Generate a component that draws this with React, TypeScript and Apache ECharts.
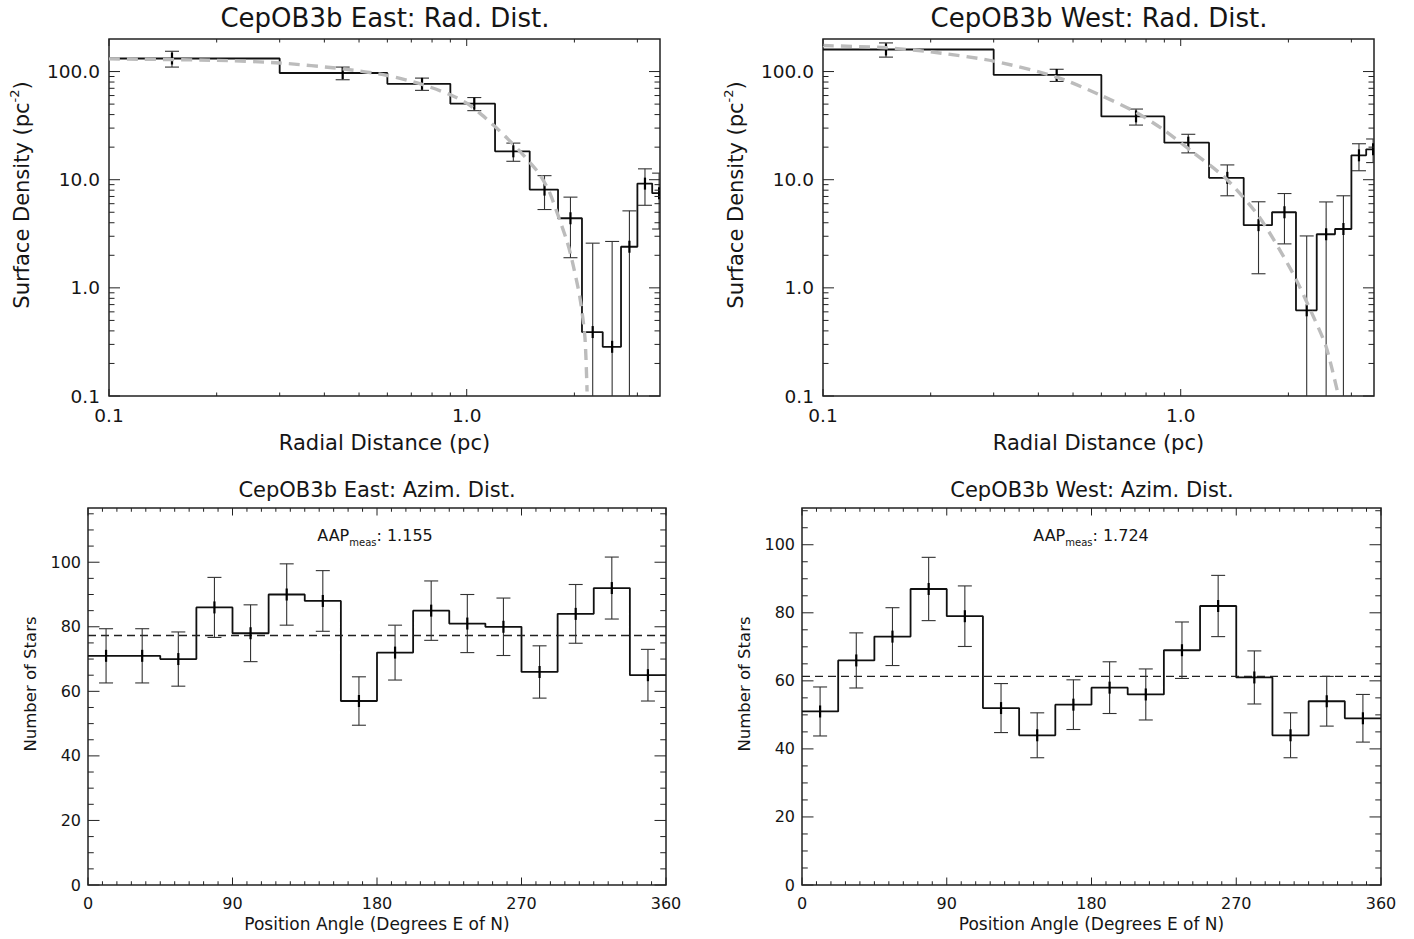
import React, { useEffect, useRef } from 'react';
import * as echarts from 'echarts';

const FONT = '"DejaVu Sans", "Liberation Sans", sans-serif';
const INK = '#151515';

// ---------- Radial distributions ----------
const RAD_EDGES = [0, 0.3, 0.6, 0.9, 1.2, 1.5, 1.8, 2.1, 2.4, 2.7, 3.0, 3.3, 3.6];
const RAD_CENTERS = [0.15, 0.45, 0.75, 1.05, 1.35, 1.65, 1.95, 2.25, 2.55, 2.85, 3.15, 3.45];
const EAST_RAD = [132, 97, 77, 50.5, 18.3, 8.1, 4.4, 0.39, 0.285, 2.4, 9.2, 7.5];
const EAST_RAD_ERR = [22, 13, 10, 7, 3.5, 2.8, 2.5, 2.2, 2.4, 2.75, 3.4, 4];
const WEST_RAD = [160, 93, 38.5, 22, 10.4, 3.8, 5.0, 0.62, 3.13, 3.5, 16.8, 19.1];
const WEST_RAD_ERR = [24, 12, 6.5, 4.3, 3.3, 2.45, 2.45, 2.4, 3.1, 3.6, 4.7, 4.7];

const EAST_FIT_R = [0.1, 0.2, 0.3, 0.45, 0.6, 0.75, 0.9, 1.0, 1.1, 1.2, 1.3, 1.4, 1.5, 1.6, 1.7, 1.78, 1.9, 1.96, 2.07, 2.14, 2.17];
const EAST_FIT = [131, 127, 120, 106, 92, 76, 61, 51, 40, 31, 24, 18.7, 14.5, 11.2, 7.8, 5.2, 2.8, 1.93, 0.83, 0.35, 0.11];
const WEST_FIT_R = [0.1, 0.15, 0.2, 0.3, 0.45, 0.6, 0.75, 0.9, 1.08, 1.34, 1.66, 2.06, 2.35, 2.55, 2.75];
const WEST_FIT = [174, 166, 152, 125, 89, 60, 42, 28.6, 18, 10.2, 4.5, 1.36, 0.54, 0.285, 0.106];

const RAD_X_RANGE: [number, number] = [0.1, 3.47];
const RAD_Y_RANGE: [number, number] = [0.1, 200];
const RAD_X_TICKS = [0.1, 1.0];
const RAD_Y_TICKS = [0.1, 1.0, 10.0, 100.0];

// ---------- Azimuthal distributions ----------
const AZ_EDGES = [0, 22.5, 45, 67.5, 90, 112.5, 135, 157.5, 180, 202.5, 225, 247.5, 270, 292.5, 315, 337.5, 360];
const AZ_CENTERS = [11.25, 33.75, 56.25, 78.75, 101.25, 123.75, 146.25, 168.75, 191.25, 213.75, 236.25, 258.75, 281.25, 303.75, 326.25, 348.75];
const EAST_AZ = [71, 71, 70, 86, 78, 90, 88, 57, 72, 85, 81, 80, 66, 84, 92, 65];
const EAST_AZ_ERR = [8.4, 8.4, 8.4, 9.3, 8.8, 9.5, 9.4, 7.5, 8.5, 9.2, 9.0, 8.9, 8.1, 9.1, 9.6, 8.0];
const EAST_AZ_MEAN = 77.3;
const EAST_AAP = '1.155';
const WEST_AZ = [51, 66, 73, 87, 79, 52, 44, 53, 58, 56, 69, 82, 61, 44, 54, 49];
const WEST_AZ_ERR = [7.2, 8.1, 8.5, 9.3, 8.9, 7.2, 6.6, 7.3, 7.6, 7.5, 8.3, 9.0, 7.8, 6.6, 7.3, 7.0];
const WEST_AZ_MEAN = 61.3;
const WEST_AAP = '1.724';

const AZ_X_RANGE: [number, number] = [0, 360];
const EAST_AZ_Y_RANGE: [number, number] = [0, 116.8];
const WEST_AZ_Y_RANGE: [number, number] = [0, 110.8];
const AZ_X_TICKS = [0, 90, 180, 270, 360];
const AZ_Y_TICKS = [0, 20, 40, 60, 80, 100];
const AZ_X_MINOR_STEP = 9;
const AZ_Y_MINOR_STEP = 5;

// ---------- layout ----------
const GRIDS = [
  { left: 109, top: 39, width: 551, height: 357 },
  { left: 823, top: 39, width: 551, height: 357 },
  { left: 88, top: 508, width: 578, height: 377 },
  { left: 802, top: 508, width: 579, height: 377 },
];

function logMinors(r: [number, number]) {
  const out: number[] = [];
  for (let d = Math.floor(Math.log10(r[0])); d <= Math.ceil(Math.log10(r[1])); d++) {
    for (let m = 2; m <= 9; m++) {
      const v = m * Math.pow(10, d);
      if (v > r[0] * 1.0001 && v < r[1] * 0.9999) out.push(v);
    }
  }
  return out;
}
function linMinors(r: [number, number], step: number, majors: number[]) {
  const out: number[] = [];
  for (let v = r[0] + step; v < r[1] - 1e-6; v += step) {
    if (!majors.some((m) => Math.abs(m - v) < 1e-6)) out.push(v);
  }
  return out;
}

function stepPoints(edges: number[], vals: number[], xr: [number, number]) {
  const pts: number[][] = [];
  for (let i = 0; i < vals.length; i++) {
    const a = Math.max(edges[i], xr[0]);
    const b = Math.min(edges[i + 1], xr[1]);
    if (b <= a) continue;
    pts.push([a, vals[i]], [b, vals[i]]);
  }
  return pts;
}

function tickSeries(idx: number, xr: [number, number], yr: [number, number], xMaj: number[], xMin: number[], yMaj: number[], yMin: number[], xLen: number, yLen: number) {
  const data: number[][] = [];
  xMaj.forEach((v) => data.push([v, yr[0], 0, 1]));
  xMin.forEach((v) => data.push([v, yr[0], 0, 0]));
  yMaj.forEach((v) => data.push([xr[0], v, 1, 1]));
  yMin.forEach((v) => data.push([xr[0], v, 1, 0]));
  const st = { stroke: '#222', lineWidth: 1 };
  return {
    type: 'custom', xAxisIndex: idx, yAxisIndex: idx, clip: false, silent: true, z: 5,
    encode: { x: 0, y: 1 },
    data,
    renderItem: (_p: any, api: any) => {
      const kind = api.value(2);
      const major = api.value(3);
      if (kind === 0) {
        const x = api.value(0);
        const b = api.coord([x, yr[0]]);
        const t = api.coord([x, yr[1]]);
        const L = major ? xLen : xLen / 2;
        return { type: 'group', children: [
          { type: 'line', shape: { x1: b[0], y1: b[1], x2: b[0], y2: b[1] - L }, style: st },
          { type: 'line', shape: { x1: t[0], y1: t[1], x2: t[0], y2: t[1] + L }, style: st },
        ] };
      }
      const y = api.value(1);
      const l = api.coord([xr[0], y]);
      const r = api.coord([xr[1], y]);
      const L = major ? yLen : yLen / 2;
      return { type: 'group', children: [
        { type: 'line', shape: { x1: l[0], y1: l[1], x2: l[0] + L, y2: l[1] }, style: st },
        { type: 'line', shape: { x1: r[0], y1: r[1], x2: r[0] - L, y2: r[1] }, style: st },
      ] };
    },
  };
}

function errSeries(idx: number, centers: number[], vals: number[], errs: number[], floor: number) {
  return {
    type: 'custom', xAxisIndex: idx, yAxisIndex: idx, clip: true, silent: true, z: 4,
    encode: { x: 0, y: 1 },
    data: centers.map((c, i) => [c, vals[i], errs[i]]),
    renderItem: (_p: any, api: any) => {
      const c = api.value(0), v = api.value(1), e = api.value(2);
      const lowVal = v - e;
      const lo = Math.max(lowVal, floor);
      const pH = api.coord([c, v + e]);
      const pL = api.coord([c, lo]);
      const pC = api.coord([c, v]);
      const cap = 7;
      const st = { stroke: '#333', lineWidth: 1.1 };
      const ch: any[] = [
        { type: 'line', shape: { x1: pH[0], y1: pH[1], x2: pL[0], y2: pL[1] }, style: st },
        { type: 'line', shape: { x1: pH[0] - cap, y1: pH[1], x2: pH[0] + cap, y2: pH[1] }, style: st },
        { type: 'line', shape: { x1: pC[0], y1: pC[1] - 6, x2: pC[0], y2: pC[1] + 6 }, style: { stroke: '#000', lineWidth: 2.2 } },
      ];
      if (lowVal > floor) ch.push({ type: 'line', shape: { x1: pL[0] - cap, y1: pL[1], x2: pL[0] + cap, y2: pL[1] }, style: st });
      return { type: 'group', children: ch };
    },
  };
}

const logFmt = (v: number) => {
  const l = Math.log10(v);
  if (Math.abs(l - Math.round(l)) > 1e-6) return '';
  const r = Math.round(l);
  return r < 0 ? '0.1' : Math.pow(10, r).toFixed(1);
};
const azYFmt = (v: number) => (AZ_Y_TICKS.some((t) => Math.abs(t - v) < 1e-6) ? String(Math.round(v)) : '');
const azXFmt = (v: number) => (AZ_X_TICKS.some((t) => Math.abs(t - v) < 1e-6) ? String(Math.round(v)) : '');

function buildOption() {
  const radLabel = { fontSize: 18.5, fontFamily: FONT, color: INK };
  const azLabel = { fontSize: 16, fontFamily: FONT, color: INK };
  const radName = { fontSize: 21, fontFamily: FONT, color: INK };
  const azName = { fontSize: 17, fontFamily: FONT, color: INK };
  const hidden = { axisLine: { show: false }, axisTick: { show: false }, splitLine: { show: false }, minorTick: { show: false }, minorSplitLine: { show: false } };

  const xAxis: any[] = [
    { ...hidden, type: 'log', gridIndex: 0, min: RAD_X_RANGE[0], max: RAD_X_RANGE[1], axisLabel: { ...radLabel, margin: 10, formatter: logFmt, showMinLabel: true, showMaxLabel: true },
      name: 'Radial Distance (pc)', nameLocation: 'middle', nameGap: 36, nameTextStyle: radName },
    { ...hidden, type: 'log', gridIndex: 1, min: RAD_X_RANGE[0], max: RAD_X_RANGE[1], axisLabel: { ...radLabel, margin: 10, formatter: logFmt, showMinLabel: true, showMaxLabel: true },
      name: 'Radial Distance (pc)', nameLocation: 'middle', nameGap: 36, nameTextStyle: radName },
    { ...hidden, type: 'value', gridIndex: 2, min: AZ_X_RANGE[0], max: AZ_X_RANGE[1], interval: 90, axisLabel: { ...azLabel, margin: 10, formatter: azXFmt },
      name: 'Position Angle (Degrees E of N)', nameLocation: 'middle', nameGap: 30, nameTextStyle: azName },
    { ...hidden, type: 'value', gridIndex: 3, min: AZ_X_RANGE[0], max: AZ_X_RANGE[1], interval: 90, axisLabel: { ...azLabel, margin: 10, formatter: azXFmt },
      name: 'Position Angle (Degrees E of N)', nameLocation: 'middle', nameGap: 30, nameTextStyle: azName },
  ];
  const yAxis: any[] = [
    { ...hidden, type: 'log', gridIndex: 0, min: RAD_Y_RANGE[0], max: RAD_Y_RANGE[1], axisLabel: { ...radLabel, margin: 9, formatter: logFmt, showMinLabel: true } },
    { ...hidden, type: 'log', gridIndex: 1, min: RAD_Y_RANGE[0], max: RAD_Y_RANGE[1], axisLabel: { ...radLabel, margin: 9, formatter: logFmt, showMinLabel: true } },
    { ...hidden, type: 'value', gridIndex: 2, min: EAST_AZ_Y_RANGE[0], max: EAST_AZ_Y_RANGE[1], interval: 20, axisLabel: { ...azLabel, margin: 7, formatter: azYFmt } },
    { ...hidden, type: 'value', gridIndex: 3, min: WEST_AZ_Y_RANGE[0], max: WEST_AZ_Y_RANGE[1], interval: 20, axisLabel: { ...azLabel, margin: 7, formatter: azYFmt } },
  ];

  const histLine = { color: '#111', width: 1.8 };
  const series: any[] = [];
  const radPanels = [
    { idx: 0, vals: EAST_RAD, errs: EAST_RAD_ERR, fr: EAST_FIT_R, fv: EAST_FIT },
    { idx: 1, vals: WEST_RAD, errs: WEST_RAD_ERR, fr: WEST_FIT_R, fv: WEST_FIT },
  ];
  radPanels.forEach((p) => {
    series.push({ type: 'line', xAxisIndex: p.idx, yAxisIndex: p.idx, data: stepPoints(RAD_EDGES, p.vals, RAD_X_RANGE), symbol: 'none', lineStyle: histLine, z: 3, silent: true });
    series.push({ type: 'line', xAxisIndex: p.idx, yAxisIndex: p.idx, data: p.fr.map((r, i) => [r, p.fv[i]]), symbol: 'none', smooth: 0.25,
      lineStyle: { color: '#bcbcbc', width: 3.4, type: [11, 7] }, z: 4, silent: true });
    series.push(errSeries(p.idx, RAD_CENTERS, p.vals, p.errs, RAD_Y_RANGE[0]));
    series.push(tickSeries(p.idx, RAD_X_RANGE, RAD_Y_RANGE, RAD_X_TICKS, logMinors(RAD_X_RANGE), RAD_Y_TICKS, logMinors(RAD_Y_RANGE), 7, 11));
  });
  const azPanels = [
    { idx: 2, vals: EAST_AZ, errs: EAST_AZ_ERR, mean: EAST_AZ_MEAN, yr: EAST_AZ_Y_RANGE },
    { idx: 3, vals: WEST_AZ, errs: WEST_AZ_ERR, mean: WEST_AZ_MEAN, yr: WEST_AZ_Y_RANGE },
  ];
  azPanels.forEach((p) => {
    series.push({ type: 'line', xAxisIndex: p.idx, yAxisIndex: p.idx, data: stepPoints(AZ_EDGES, p.vals, AZ_X_RANGE), symbol: 'none', lineStyle: histLine, z: 3, silent: true });
    series.push({ type: 'line', xAxisIndex: p.idx, yAxisIndex: p.idx, data: [[AZ_X_RANGE[0], p.mean], [AZ_X_RANGE[1], p.mean]], symbol: 'none',
      lineStyle: { color: '#222', width: 1.3, type: [8, 5] }, z: 3, silent: true });
    series.push(errSeries(p.idx, AZ_CENTERS, p.vals, p.errs, p.yr[0]));
    series.push(tickSeries(p.idx, AZ_X_RANGE, p.yr, AZ_X_TICKS, linMinors(AZ_X_RANGE, AZ_X_MINOR_STEP, AZ_X_TICKS), AZ_Y_TICKS, linMinors(p.yr, AZ_Y_MINOR_STEP, AZ_Y_TICKS), 7.5, 11.5));
  });

  const titleText = (x: number, y: number, text: string, size: number) => ({
    type: 'text', x, y, silent: true,
    style: { text, align: 'center', verticalAlign: 'middle', fontSize: size, fontFamily: FONT, fill: INK },
  });
  const yName = (x: number, y: number, text: string, rich: any) => ({
    type: 'text', x, y, rotation: Math.PI / 2, silent: true,
    style: { text, align: 'center', verticalAlign: 'middle', rich },
  });
  const aap = (x: number, y: number, val: string) => ({
    type: 'text', x, y, silent: true,
    style: {
      text: `{a|AAP}{s|meas}{a|: ${val}}`, align: 'center', verticalAlign: 'middle',
      rich: {
        a: { fontSize: 16, fontFamily: FONT, fill: INK, lineHeight: 24 },
        s: { fontSize: 10, fontFamily: FONT, fill: INK, lineHeight: 10, verticalAlign: 'bottom' },
      },
    },
  });
  const radRich = {
    b: { fontSize: 21, fontFamily: FONT, fill: INK, lineHeight: 29 },
    p: { fontSize: 13, fontFamily: FONT, fill: INK, lineHeight: 13, verticalAlign: 'top' },
  };
  const azRich = { b: { fontSize: 16.5, fontFamily: FONT, fill: INK, lineHeight: 20 } };

  const graphic: any[] = [
    titleText(385, 18, 'CepOB3b East: Rad. Dist.', 26),
    titleText(1099, 18, 'CepOB3b West: Rad. Dist.', 26),
    titleText(377, 490, 'CepOB3b East: Azim. Dist.', 21),
    titleText(1092, 490, 'CepOB3b West: Azim. Dist.', 21),
    yName(22, 195, '{b|Surface Density (pc}{p|-2}{b|)}', radRich),
    yName(736, 195, '{b|Surface Density (pc}{p|-2}{b|)}', radRich),
    yName(30, 684, '{b|Number of Stars}', azRich),
    yName(744, 684, '{b|Number of Stars}', azRich),
    aap(375, 535, EAST_AAP),
    aap(1091, 535, WEST_AAP),
  ];

  return {
    animation: false,
    backgroundColor: '#fff',
    grid: GRIDS.map((g) => ({ ...g, containLabel: false, show: true, borderColor: '#222', borderWidth: 1.5, backgroundColor: 'transparent' })),
    xAxis,
    yAxis,
    series,
    graphic,
  };
}

export default function App() {
  const ref = useRef<HTMLDivElement>(null);
  useEffect(() => {
    if (!ref.current) return;
    const chart = echarts.init(ref.current, null, { renderer: 'svg' });
    chart.setOption(buildOption() as any);
    return () => chart.dispose();
  }, []);
  return <div ref={ref} style={{ position: 'fixed', left: 0, top: 0, width: 1414, height: 939, background: '#fff' }} />;
}
